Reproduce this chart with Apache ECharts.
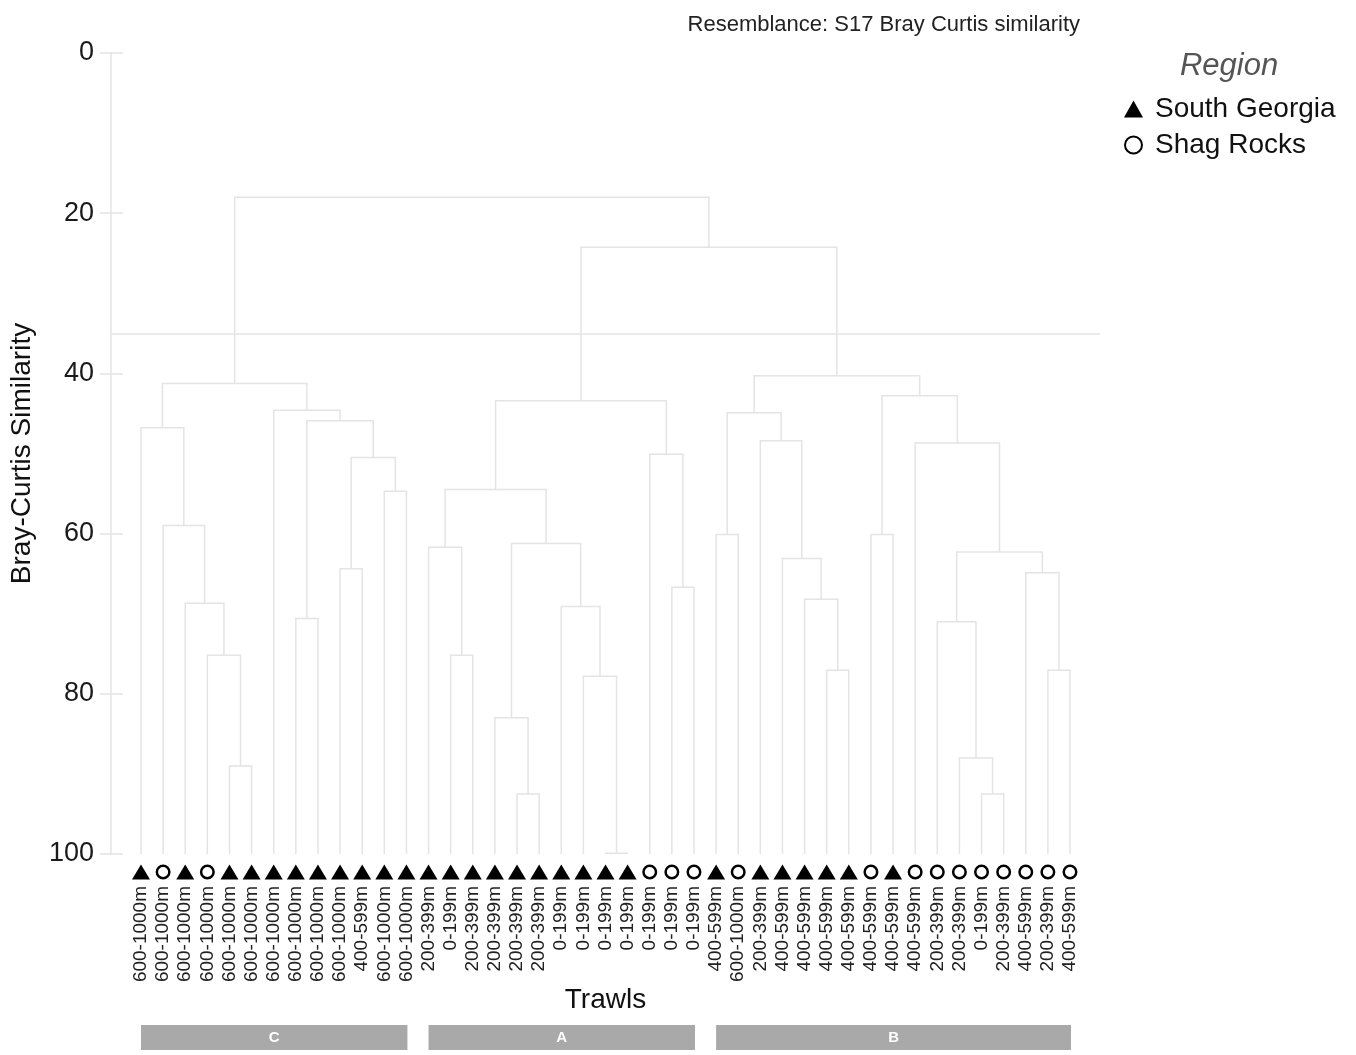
<!DOCTYPE html>
<html>
<head>
<meta charset="utf-8">
<title>Bray-Curtis dendrogram</title>
<script src="https://cdn.jsdelivr.net/npm/echarts@6/dist/echarts.min.js"></script>
<style>
  html, body { margin: 0; padding: 0; background: #fff; }
  #chart { width: 1356px; height: 1055px; }
</style>
</head>
<body>
<div id="chart"></div>
<script>
// trawls, left to right along the dendrogram
var leafLabels = [
  '600-1000m', '600-1000m', '600-1000m', '600-1000m', '600-1000m', '600-1000m', '600-1000m',
  '600-1000m', '600-1000m', '600-1000m', '400-599m', '600-1000m', '600-1000m',
  '200-399m', '0-199m', '200-399m', '200-399m', '200-399m', '200-399m', '0-199m',
  '0-199m', '0-199m', '0-199m', '0-199m', '0-199m', '0-199m',
  '400-599m', '600-1000m', '200-399m', '400-599m', '400-599m', '400-599m', '400-599m',
  '400-599m', '400-599m', '400-599m', '200-399m', '200-399m', '0-199m', '200-399m',
  '400-599m', '200-399m', '400-599m'
];
// SG = South Georgia, SR = Shag Rocks
var leafRegion = [
  'SG', 'SR', 'SG', 'SR', 'SG', 'SG', 'SG', 'SG', 'SG', 'SG', 'SG', 'SG', 'SG',
  'SG', 'SG', 'SG', 'SG', 'SG', 'SG', 'SG', 'SG', 'SG', 'SG', 'SR', 'SR', 'SR',
  'SG', 'SR', 'SG', 'SG', 'SG', 'SG', 'SG', 'SR', 'SG', 'SR', 'SR', 'SR', 'SR',
  'SR', 'SR', 'SR', 'SR'
];
var regionNames = { SG: 'South Georgia', SR: 'Shag Rocks' };

// merges: [left node, right node, similarity]
// nodes 0-42 are the leaves, node 43 + k is merge k
var merges = [
  [4, 5, 89.0], [3, 43, 75.2], [2, 44, 68.7], [1, 45, 59.0], [0, 46, 46.8],
  [7, 8, 70.6], [9, 10, 64.4], [11, 12, 54.7], [49, 50, 50.5], [48, 51, 45.9],
  [6, 52, 44.6], [47, 53, 41.25],
  [14, 15, 75.2], [13, 55, 61.7], [17, 18, 92.5], [16, 57, 83.0], [21, 22, 99.9],
  [20, 59, 77.8], [19, 60, 69.1], [58, 61, 61.25], [56, 62, 54.5], [24, 25, 66.7],
  [23, 64, 50.1], [63, 65, 43.4],
  [26, 27, 60.1], [31, 32, 77.05], [30, 68, 68.2], [29, 69, 63.1], [28, 70, 48.4],
  [67, 71, 44.9], [33, 34, 60.1], [38, 39, 92.5], [37, 74, 88.0], [36, 75, 71.0],
  [41, 42, 77.05], [40, 77, 64.9], [76, 78, 62.3], [35, 79, 48.7], [73, 80, 42.8],
  [72, 81, 40.3],
  [66, 82, 24.25], [54, 83, 18.0]
];
var cutLevel = 35;

var groupNames = ['C', 'A', 'B'];
var groupFirst = [0, 13, 26];
var groupLast = [12, 25, 42];

var FONT = 'Liberation Sans, Arial, sans-serif';
var LINE = '#e4e4e4';
var PAD = 1.356; // leaf steps between axis line and first leaf

// walk the merges to get each U-shape
var nodeX = leafLabels.map(function (_, i) { return i; });
var nodeH = leafLabels.map(function () { return 100; });
var links = merges.map(function (m) {
  var row = [nodeX[m[0]], nodeH[m[0]], nodeX[m[1]], nodeH[m[1]], m[2]];
  nodeX.push((row[0] + row[2]) / 2);
  nodeH.push(m[2]);
  return row;
});

function markers(code) {
  var out = [];
  leafRegion.forEach(function (r, i) { if (r === code) out.push([i, 0.5]); });
  return out;
}

var xMin = -PAD, xMax = leafLabels.length - 1 + PAD;
var step = 989 / (xMax - xMin);

var chart = echarts.init(document.getElementById('chart'));
chart.setOption({
  animation: false,
  textStyle: { fontFamily: FONT },
  title: {
    text: 'Resemblance: S17 Bray Curtis similarity',
    right: 271, top: 9,
    textStyle: { fontSize: 22, fontWeight: 'normal', color: '#222', fontFamily: FONT }
  },
  graphic: [{
    type: 'text', x: 1229, y: 66,
    style: { text: 'Region', font: 'italic 31px ' + FONT, fill: '#555', textAlign: 'center', textVerticalAlign: 'middle' }
  }],
  legend: {
    orient: 'vertical', left: 1119, top: 90,
    itemWidth: 19, itemHeight: 17, itemGap: 8,
    textStyle: { fontSize: 28, color: '#111', padding: [0, 0, 0, 7] },
    data: [regionNames.SG, regionNames.SR]
  },
  grid: [
    { left: 111, top: 53, width: 989, height: 801 },
    { left: 111 + (PAD - 0.5) * step, top: 862, width: leafLabels.length * step, height: 20 },
    { left: 111, top: 1025, width: 989, height: 25 }
  ],
  xAxis: [
    { gridIndex: 0, type: 'value', min: xMin, max: xMax, show: false },
    {
      gridIndex: 1, type: 'category', data: leafLabels, position: 'bottom',
      axisLine: { show: false }, axisTick: { show: false },
      axisLabel: { interval: 0, rotate: 90, margin: 4, fontSize: 19, color: '#222' },
      name: 'Trawls', nameLocation: 'middle', nameGap: 103,
      nameTextStyle: { fontSize: 28, color: '#111' }
    },
    { gridIndex: 2, type: 'value', min: xMin, max: xMax, show: false }
  ],
  yAxis: [
    {
      gridIndex: 0, type: 'value', position: 'left', inverse: true, min: 0, max: 100, interval: 20,
      axisLine: { show: true, onZero: false, lineStyle: { color: LINE, width: 1.5 } },
      axisTick: { show: true, length: 11, lineStyle: { color: LINE, width: 1.5 } },
      axisLabel: { margin: 17, fontSize: 27, color: '#1a1a1a' },
      splitLine: { show: false },
      name: 'Bray-Curtis Similarity', nameLocation: 'middle', nameGap: 75,
      nameTextStyle: { fontSize: 28, color: '#111' }
    },
    {
      gridIndex: 0, type: 'value', position: 'left', inverse: true, min: 0, max: 100, interval: 20,
      axisLine: { show: false, onZero: false }, axisLabel: { show: false }, splitLine: { show: false },
      axisTick: { show: true, inside: true, length: 12, lineStyle: { color: LINE, width: 1.5 } }
    },
    { gridIndex: 1, type: 'value', min: 0, max: 1, show: false },
    { gridIndex: 2, type: 'value', min: 0, max: 1, show: false }
  ],
  series: [
    {
      type: 'custom', xAxisIndex: 0, yAxisIndex: 0, silent: true,
      data: links,
      encode: { x: [0, 2], y: [1, 3, 4] },
      renderItem: function (params, api) {
        var pts = [
          api.coord([api.value(0), api.value(1)]),
          api.coord([api.value(0), api.value(4)]),
          api.coord([api.value(2), api.value(4)]),
          api.coord([api.value(2), api.value(3)])
        ];
        return { type: 'polyline', shape: { points: pts }, style: { stroke: LINE, lineWidth: 1.5, fill: null } };
      }
    },
    {
      type: 'line', xAxisIndex: 0, yAxisIndex: 0, data: [], silent: true,
      markLine: {
        silent: true, symbol: 'none', label: { show: false },
        lineStyle: { color: LINE, width: 1.5, type: 'solid' },
        data: [{ yAxis: cutLevel }]
      }
    },
    {
      name: regionNames.SG, type: 'scatter', xAxisIndex: 1, yAxisIndex: 2,
      symbol: 'triangle', symbolSize: [18, 15],
      itemStyle: { color: '#000', opacity: 1 },
      data: markers('SG')
    },
    {
      name: regionNames.SR, type: 'scatter', xAxisIndex: 1, yAxisIndex: 2,
      symbol: 'circle', symbolSize: 12.5,
      itemStyle: { color: '#fff', borderColor: '#000', borderWidth: 2.5, opacity: 1 },
      data: markers('SR')
    },
    {
      type: 'custom', xAxisIndex: 2, yAxisIndex: 3, silent: true,
      data: groupFirst.map(function (f, i) { return [f, groupLast[i]]; }),
      encode: { x: [0, 1] },
      renderItem: function (params, api) {
        var a = api.coord([api.value(0), 1]);
        var b = api.coord([api.value(1), 0]);
        return {
          type: 'rect',
          shape: { x: a[0], y: a[1], width: b[0] - a[0] + 1, height: b[1] - a[1] },
          style: { fill: '#a9a9a9' },
          textContent: { style: { text: groupNames[params.dataIndex], fill: '#fff', font: 'bold 15px ' + FONT } },
          textConfig: { position: 'inside' }
        };
      }
    }
  ]
});
</script>
</body>
</html>
